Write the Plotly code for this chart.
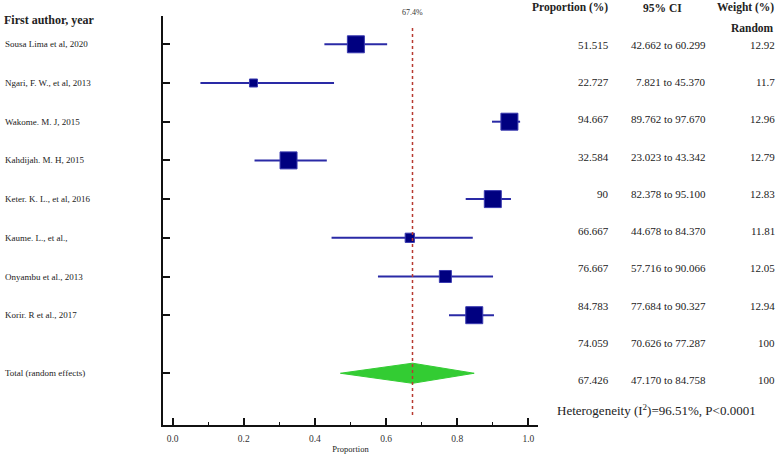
import numpy as np
import plotly.graph_objects as go

# study-level data (proportion %, 95% CI, random-effects weight %)
studies = [
    "Sousa Lima et al, 2020",
    "Ngari, F. W., et al, 2013",
    "Wakome. M. J, 2015",
    "Kahdijah. M. H, 2015",
    "Keter. K. L., et al, 2016",
    "Kaume. L., et al.,",
    "Onyambu et al., 2013",
    "Korir. R et al., 2017",
]
proportion = [51.515, 22.727, 94.667, 32.584, 90, 66.667, 76.667, 84.783]
ci_low = [42.662, 7.821, 89.762, 23.023, 82.378, 44.678, 57.716, 77.684]
ci_high = [60.299, 45.370, 97.670, 43.342, 95.100, 84.370, 90.066, 90.327]
weight = [12.92, 11.7, 12.96, 12.79, 12.83, 11.81, 12.05, 12.94]

# pooled estimates
fixed_est, fixed_low, fixed_high, fixed_w = 74.059, 70.626, 77.287, 100
random_label = "Total (random effects)"
random_est, random_low, random_high, random_w = 67.426, 47.170, 84.758, 100
heterogeneity = "Heterogeneity (I<sup>2</sup>)=96.51%, P<0.0001"

SERIF = "Liberation Serif"
rows = list(range(len(studies)))
total_row = len(studies) + 0.5

p = np.array(proportion) / 100
lo = np.array(ci_low) / 100
hi = np.array(ci_high) / 100
pooled = random_est / 100

fig = go.Figure()

# CI whiskers
for yi, a, b in zip(rows, lo, hi):
    fig.add_trace(go.Scatter(
        x=[a, b], y=[yi, yi], mode="lines",
        line=dict(color="#2a2aa6", width=2), hoverinfo="skip",
    ))

# squares sized by weight
sizes = np.clip(8 + (np.array(weight) - min(weight)) * 11.5, 8, 17)
fig.add_trace(go.Scatter(
    x=p, y=rows, mode="markers",
    marker=dict(symbol="square", size=sizes, color="#000080", opacity=1,
                line=dict(color="#3a3ab0", width=1)),
    hoverinfo="skip",
))

# random effects diamond
fig.add_trace(go.Scatter(
    x=[random_low / 100, pooled, random_high / 100, pooled, random_low / 100],
    y=[total_row, total_row - 0.26, total_row, total_row + 0.26, total_row],
    mode="lines", fill="toself", fillcolor="#33cc33",
    line=dict(color="#33cc33", width=1), hoverinfo="skip",
))

# dummy trace on the table axis
fig.add_trace(go.Scatter(x=[None], y=[None], yaxis="y2", showlegend=False))

# pooled estimate reference line
fig.add_shape(type="line", xref="x", yref="y", x0=pooled, x1=pooled,
              y0=-0.42, y1=9.63, line=dict(color="#b83a30", width=1.5, dash="dot"),
              layer="above")
fig.add_annotation(x=pooled, xref="x", y=1.0, yref="paper", yanchor="bottom",
                   text=f"{random_est:.1f}%", showarrow=False,
                   font=dict(family=SERIF, size=8, color="#333"), yshift=-3)

L, R, T, B = 163, 240, 16, 34
W = 778 - L - R
H = 459 - T - B


def px_x(px):
    return (px - L) / W


def px_y(py):
    return (459 - B - py) / H


ann = []
# left labels
ann.append(dict(x=px_x(2), y=px_y(20), text="<b>First author, year</b>",
                xanchor="left", font=dict(size=12)))
for yi, name in zip(rows, studies):
    ann.append(dict(x=px_x(3), y=yi, yref="y", text=name, xanchor="left",
                    font=dict(size=9)))
ann.append(dict(x=px_x(3), y=total_row, yref="y", text=random_label,
                xanchor="left", font=dict(size=9)))

# right table headers
ann.append(dict(x=px_x(570), y=px_y(8), text="<b>Proportion (%)</b>",
                xanchor="center", font=dict(size=11.5)))
ann.append(dict(x=px_x(662), y=px_y(8), text="<b>95% CI</b>",
                xanchor="center", font=dict(size=11.5)))
ann.append(dict(x=px_x(776), y=px_y(8), text="<b>Weight (%)</b>", xanchor="right",
                font=dict(size=11.5)))
ann.append(dict(x=px_x(776), y=px_y(28), text="<b>Random</b>", xanchor="right",
                font=dict(size=11.5)))

tab_prop = proportion + [fixed_est, random_est]
tab_lo = ci_low + [fixed_low, random_low]
tab_hi = ci_high + [fixed_high, random_high]
tab_w = weight + [fixed_w, random_w]
for i, (pr, a, b, w) in enumerate(zip(tab_prop, tab_lo, tab_hi, tab_w)):
    ann.append(dict(x=px_x(611), y=i, yref="y2", text=f"{pr:g}", xanchor="right",
                    font=dict(size=11)))
    ann.append(dict(x=px_x(708), y=i, yref="y2", text=f"{a:.3f} to {b:.3f}",
                    xanchor="right", font=dict(size=11)))
    ann.append(dict(x=px_x(777), y=i, yref="y2", text=f"{w:g}", xanchor="right",
                    font=dict(size=11)))
ann.append(dict(x=px_x(656), y=px_y(410), text=heterogeneity, xanchor="center",
                font=dict(size=13)))

for a in ann:
    a.setdefault("xref", "paper")
    a.setdefault("yref", "paper")
    a.setdefault("yanchor", "middle")
    a.setdefault("showarrow", False)
    a["font"] = dict(family=SERIF, color="#222", **a["font"])
    fig.add_annotation(**a)

fig.update_layout(
    width=778, height=459,
    margin=dict(l=L, r=R, t=T, b=B),
    paper_bgcolor="white", plot_bgcolor="white",
    showlegend=False,
    font=dict(family=SERIF, color="#222"),
    xaxis=dict(
        range=[-0.027, 1.027], dtick=0.2, tick0=0, tickformat=".1f",
        showgrid=False, zeroline=False, showline=True, linecolor="#111", linewidth=2,
        ticks="inside", ticklen=7, tickwidth=2, tickcolor="#111",
        minor=dict(ticks="inside", ticklen=3, tickwidth=1, dtick=0.1, tick0=0,
                   tickcolor="#111", showgrid=False),
        tickfont=dict(size=9.5, family=SERIF, color="#333"),
        ticklabelstandoff=4, automargin=False,
        title=dict(text="Proportion", font=dict(size=8.5, family=SERIF), standoff=3),
    ),
    yaxis=dict(
        range=[9.837, -0.731], showgrid=False, zeroline=False,
        showline=True, linecolor="#111", linewidth=2, automargin=False,
        tickvals=rows + [total_row], ticktext=[""] * (len(rows) + 1),
        ticks="inside", ticklen=7, tickwidth=2, tickcolor="#111",
    ),
    yaxis2=dict(range=[10.21, -0.779], overlaying="y", visible=False),
)

fig.write_html("out.html", config={"displayModeBar": False},
               post_script="document.body.style.margin='0';")
